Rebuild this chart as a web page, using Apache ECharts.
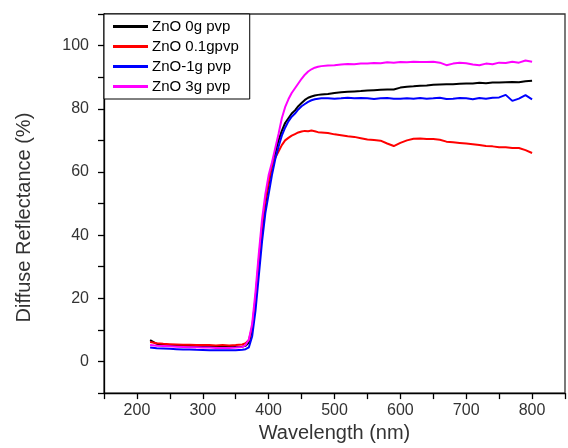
<!DOCTYPE html>
<html>
<head>
<meta charset="utf-8">
<script src="https://cdn.jsdelivr.net/npm/echarts@6/dist/echarts.min.js"></script>
<style>
html,body{margin:0;padding:0;background:#fff;}
#chart{width:568px;height:448px;}
</style>
</head>
<body>
<div id="chart"></div>
<script>
// Wavelength (nm)
var wavelengths = [220,230,240,250,260,270,280,290,300,310,320,330,340,350,360,
  365,370,375,380,385,390,395,400,405,410,415,420,425,430,435,440,445,450,455,460,465,470,475,480,
  490,500,510,520,530,540,550,560,570,580,590,600,610,620,630,640,650,660,670,680,690,700,710,720,730,740,750,760,770,780,790,800];

var seriesNames = ['ZnO 0g pvp', 'ZnO 0.1gpvp', 'ZnO-1g pvp', 'ZnO 3g pvp'];

var zno0g = [6.8,5.6,5.3,5.2,5.1,5.0,5.0,4.9,4.8,4.8,4.7,4.7,4.6,4.6,4.7,
  5.0,6.0,10,19,31,42,50,56,62,66,70,73,75.5,77,78.5,79.5,80.8,81.8,82.8,83.5,83.9,84.2,84.4,84.5,
  84.7,85.0,85.2,85.4,85.5,85.6,85.8,85.9,86.0,86.1,86.1,86.7,87.0,87.1,87.3,87.4,87.6,87.7,87.8,87.8,87.9,88.0,88.0,88.2,88.1,88.3,88.3,88.4,88.5,88.4,88.7,88.9];

var zno01g = [6.2,5.8,5.6,5.5,5.4,5.3,5.3,5.2,5.2,5.2,5.1,5.2,5.1,5.2,5.4,
  5.8,6.8,11,20,32,43,51,57,62,64.5,66.5,68.5,70,70.8,71.5,72,72.5,72.8,73,72.9,73.1,72.9,72.6,72.5,
  72.3,71.9,71.6,71.3,71.1,70.7,70.3,70.1,69.9,69.0,68.2,69.2,70.0,70.5,70.6,70.4,70.4,70.2,69.6,69.4,69.2,69.0,68.8,68.5,68.2,68.1,67.8,67.8,67.6,67.6,66.9,66.0];

var zno1g = [4.4,4.2,4.1,4.0,3.9,3.8,3.8,3.7,3.65,3.6,3.6,3.6,3.6,3.6,3.7,
  3.9,4.5,8,16,27,38,47,53,59,64,68,71.5,74,76,77.5,78.5,79.8,80.8,81.5,82.2,82.7,83.0,83.2,83.3,
  83.3,83.2,83.3,83.5,83.3,83.4,83.3,83.1,83.3,83.4,83.2,83.2,83.3,83.2,83.4,83.2,83.3,83.5,83.1,83.2,83.4,83.3,83.0,83.4,83.2,83.5,83.6,84.4,82.5,83.2,84.3,83.0];

var zno3g = [5.2,5.0,4.9,4.8,4.7,4.6,4.5,4.5,4.4,4.4,4.3,4.3,4.3,4.4,4.6,
  5.2,7,12,22,34,45,53,59,63,67.5,72,77,80.5,83,85,86.5,88,89.5,90.8,91.8,92.5,93.0,93.3,93.5,
  93.7,93.8,94.0,94.2,94.1,94.3,94.3,94.5,94.4,94.7,94.6,94.8,94.7,94.9,94.8,94.8,94.9,94.6,93.8,94.3,94.6,94.4,94.0,93.8,94.3,94.1,94.6,94.5,94.9,94.6,95.3,94.9];

var xTickLabels = [200,300,400,500,600,700,800];
var yTickLabels = [0,20,40,60,80,100];

var colors = ['#000000', '#ff0000', '#0000ff', '#ff00ff'];
var allValues = [zno0g, zno01g, zno1g, zno3g];

function pairs(vals){
  return wavelengths.map(function(w,i){ return [w, vals[i]]; });
}

var FONT = 'Liberation Sans, Arial, sans-serif';
var chart = echarts.init(document.getElementById('chart'), null, {renderer:'canvas'});
chart.setOption({
  animation: false,
  backgroundColor: '#ffffff',
  grid: {left: 104, top: 14, width: 467, height: 383, show: true, borderColor: '#333', borderWidth: 1.3, containLabel: false},
  legend: {
    orient: 'vertical', left: 104, top: 14,
    backgroundColor: '#fff',
    borderColor: '#000', borderWidth: 1, borderRadius: 0,
    padding: [5, 11, 5, 9], itemGap: 5, itemWidth: 35, itemHeight: 3,
    icon: 'rect',
    textStyle: {fontFamily: FONT, fontSize: 15, color: '#000', padding: [0,0,0,-1]},
    data: seriesNames
  },
  xAxis: {
    type: 'value', min: 150, max: 850, interval: 50,
    name: 'Wavelength (nm)', nameLocation: 'middle', nameGap: 27,
    nameTextStyle: {fontFamily: FONT, fontSize: 20, color: '#333'},
    axisLine: {show: true, onZero: false, lineStyle: {color: '#000', width: 1.3}},
    axisTick: {show: true, inside: false, length: 6, lineStyle: {color: '#000', width: 1.3}},
    axisLabel: {fontFamily: FONT, fontSize: 16, color: '#333', margin: 9,
      formatter: function(v){ return xTickLabels.indexOf(v) >= 0 ? String(v) : ''; }},
    splitLine: {show: false}
  },
  yAxis: {
    type: 'value', min: -10, max: 110, interval: 10,
    name: 'Diffuse Reflectance (%)', nameLocation: 'middle', nameGap: 70,
    nameTextStyle: {fontFamily: FONT, fontSize: 20, color: '#333', padding: [0, 0, 0, -28]},
    axisLine: {show: true, onZero: false, lineStyle: {color: '#000', width: 1.3}},
    axisTick: {show: true, inside: false, length: 6, lineStyle: {color: '#000', width: 1.3}},
    axisLabel: {fontFamily: FONT, fontSize: 16, color: '#333', margin: 15,
      formatter: function(v){ return yTickLabels.indexOf(v) >= 0 ? String(v) : ''; }},
    splitLine: {show: false}
  },
  series: seriesNames.map(function(n, i){
    return {
      name: n, type: 'line', showSymbol: false, symbol: 'none',
      data: pairs(allValues[i]),
      lineStyle: {color: colors[i], width: 2},
      itemStyle: {color: colors[i]},
      z: 2 + i
    };
  })
});
</script>
</body>
</html>
